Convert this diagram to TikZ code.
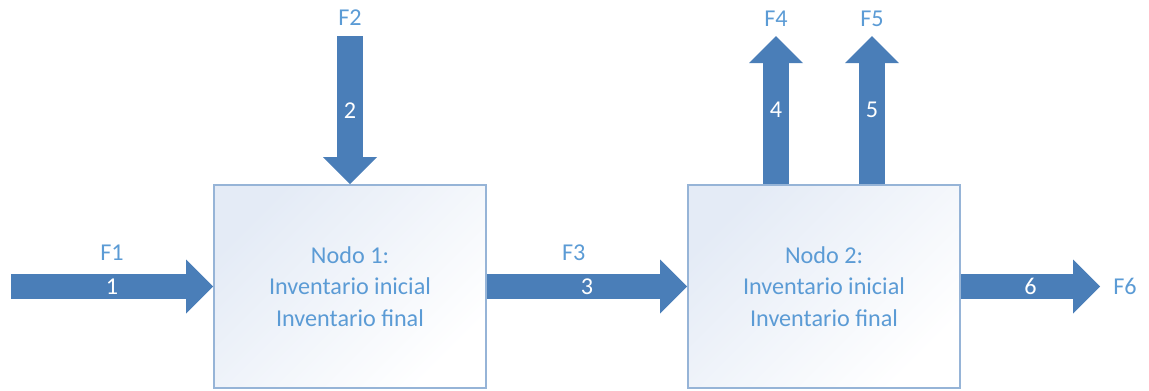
\documentclass[tikz,border=0pt]{standalone}
\usepackage{fontspec}
\setmainfont{Carlito}
\usetikzlibrary{arrows.meta,calc}

\definecolor{flowblue}{RGB}{74,126,184}
\definecolor{textblue}{RGB}{91,155,213}
\definecolor{edgeblue}{RGB}{150,180,215}
\definecolor{nodetint}{RGB}{228,235,246}

\begin{document}
\begin{tikzpicture}[
  font=\fontsize{17.2}{22.5}\selectfont,
  nodo/.style={draw=edgeblue, line width=1.2pt, top color=nodetint, bottom color=white,
               shading angle=45, text=textblue, align=center,
               minimum width=6.8cm, minimum height=5.075cm},
  flow/.style={draw=flowblue, line width=0.64cm,
               -{Triangle[length=0.675cm, width=1.35cm, line width=0pt]}},
  num/.style={text=white, inner sep=0pt},
  lbl/.style={text=textblue, inner sep=0pt},
]
  \useasboundingbox (0,0) rectangle (28.725,9.75);

  % ----- Nodes -----
  \node[nodo] (n1) at (8.75,2.5875) {Nodo 1:\\Inventario inicial\\Inventario final};
  \node[nodo] (n2) at (20.60,2.5875) {Nodo 2:\\Inventario inicial\\Inventario final};

  % Free ends of the streams
  \coordinate (in1)  at (0.275,2.5875);
  \coordinate (in2)  at ($(n1.north)+(0,3.7)$);
  \coordinate (out4) at ($(n2.north)+(-1.2,3.7)$);
  \coordinate (out5) at ($(n2.north)+(1.2,3.7)$);
  \coordinate (out6) at (27.50,2.5875);

  % ----- Streams -----
  \draw[flow] (in1) -- (n1.west)
    node[midway, num] (s1) {1}
    node[midway, lbl, yshift=0.85cm] (f1) {F1};
  \draw[flow] (in2) -- (n1.north)
    node[midway, num] (s2) {2}
    node[at start, lbl, yshift=0.475cm] (f2) {F2};
  \draw[flow] (n1.east) -- (n2.west)
    node[midway, num] (s3) {3}
    node[midway, lbl, xshift=-0.33cm, yshift=0.85cm] (f3) {F3};
  \draw[flow] ($(n2.north)+(-1.2,0)$) -- (out4)
    node[midway, num] (s4) {4}
    node[at end, lbl, yshift=0.425cm] (f4) {F4};
  \draw[flow] ($(n2.north)+(1.2,0)$) -- (out5)
    node[midway, num] (s5) {5}
    node[at end, lbl, yshift=0.425cm] (f5) {F5};
  \draw[flow] (n2.east) -- (out6)
    node[midway, num] (s6) {6}
    node[at end, lbl, xshift=0.625cm] (f6) {F6};
\end{tikzpicture}
\end{document}
